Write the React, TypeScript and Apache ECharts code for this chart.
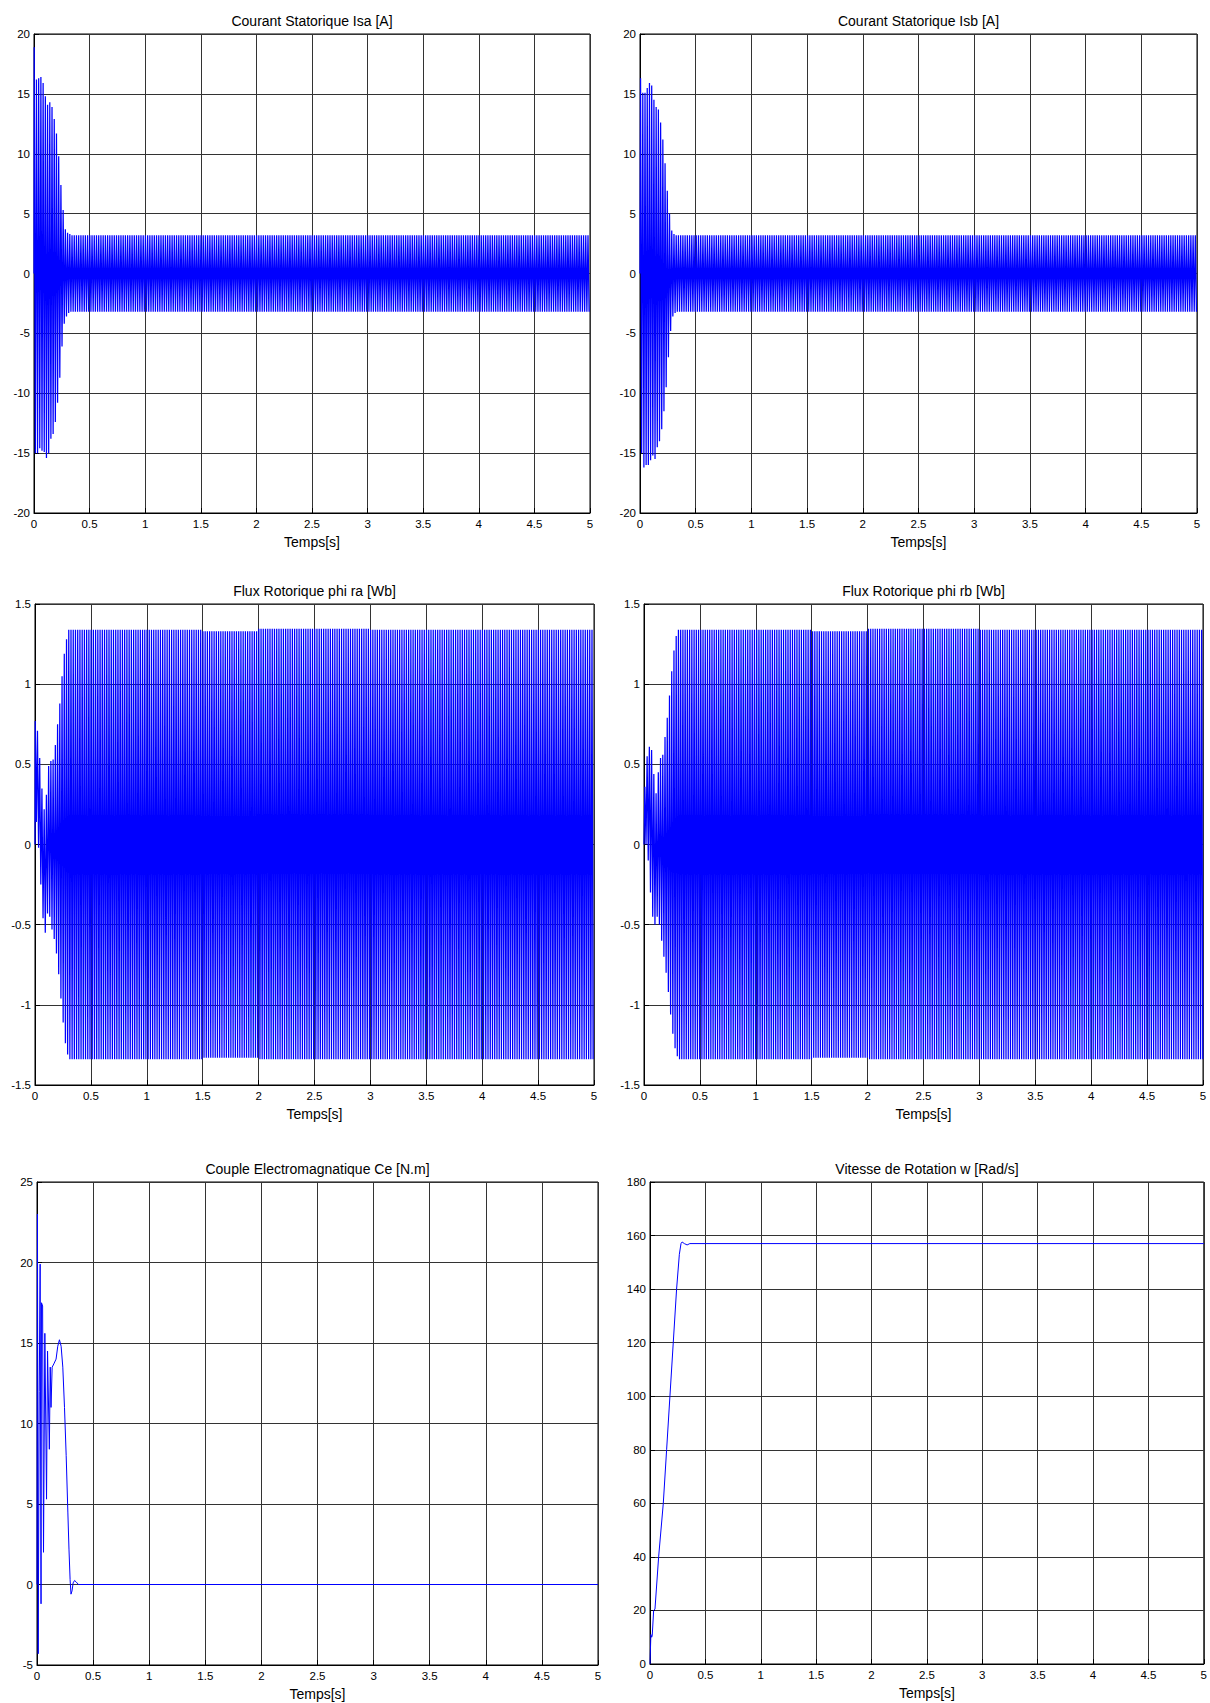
import React, { useEffect, useRef } from "react";
import * as echarts from "echarts";

// ---------------- DATA ----------------
const X_MIN = 0;
const X_MAX = 5;
const X_STEP = 0.5;
const SUPPLY_PERIOD = 0.02; // 50 Hz carrier of the oscillating quantities (s)

const titles = [
  "Courant Statorique Isa [A]",
  "Courant Statorique Isb [A]",
  "Flux Rotorique phi ra [Wb]",
  "Flux Rotorique phi rb [Wb]",
  "Couple Electromagnatique Ce [N.m]",
  "Vitesse de Rotation w [Rad/s]",
];
const xName = "Temps[s]";

// y axis ranges [min, max, step]
const yRanges: [number, number, number][] = [
  [-20, 20, 5],
  [-20, 20, 5],
  [-1.5, 1.5, 0.5],
  [-1.5, 1.5, 0.5],
  [-5, 25, 5],
  [0, 180, 20],
];

// Isa : successive positive / negative peaks during start-up (one per supply cycle)
const isaUpperPeaks = [18.9, 16.2, 16.3, 16.4, 15.9, 14.8, 14.1, 14.3, 13.9, 12.9, 11.7, 9.8, 7.4, 5.3, 3.7, 3.4, 3.3];
const isaLowerPeaks = [-15.0, -15.0, -14.6, -14.8, -14.9, -15.4, -15.0, -13.8, -13.4, -12.4, -10.8, -8.7, -6.1, -4.2, -3.6, -3.3];
// steady-state peak envelope, per 0.5 s block
const isaSteadyUpper = [3.2, 3.2, 3.2, 3.2, 3.2, 3.2, 3.2, 3.2, 3.2, 3.2];
const isaSteadyLower = [-3.2, -3.2, -3.2, -3.2, -3.2, -3.2, -3.2, -3.2, -3.2, -3.2];
const isaFirstPeakTime = 0.002;

// Isb
const isbUpperPeaks = [16.3, 15.1, 15.1, 15.5, 15.9, 15.7, 14.5, 13.9, 13.7, 12.6, 11.2, 9.2, 6.9, 5.0, 3.6, 3.3];
const isbLowerPeaks = [-15.0, -16.2, -16.0, -16.0, -15.6, -15.2, -15.5, -14.5, -14.0, -13.0, -11.5, -9.5, -7.0, -4.8, -3.6, -3.3];
const isbSteadyUpper = [3.2, 3.2, 3.2, 3.2, 3.2, 3.2, 3.2, 3.2, 3.2, 3.2];
const isbSteadyLower = [-3.2, -3.2, -3.2, -3.2, -3.2, -3.2, -3.2, -3.2, -3.2, -3.2];
const isbFirstPeakTime = 0.005;

// phi ra
const phiRaUpperPeaks = [0.77, 0.71, 0.54, 0.35, 0.22, 0.31, 0.49, 0.52, 0.53, 0.62, 0.75, 0.88, 1.05, 1.19, 1.28, 1.34];
const phiRaLowerPeaks = [0.14, -0.02, -0.25, -0.46, -0.55, -0.43, -0.45, -0.53, -0.59, -0.68, -0.81, -0.96, -1.11, -1.24, -1.31, -1.34];
const phiRaSteadyUpper = [1.34, 1.34, 1.34, 1.33, 1.345, 1.345, 1.34, 1.34, 1.34, 1.34];
const phiRaSteadyLower = [-1.34, -1.34, -1.34, -1.33, -1.34, -1.34, -1.34, -1.34, -1.34, -1.34];
const phiRaFirstPeakTime = 0.002;

// phi rb
const phiRbUpperPeaks = [0.36, 0.55, 0.61, 0.59, 0.44, 0.32, 0.45, 0.54, 0.56, 0.67, 0.79, 0.93, 1.08, 1.21, 1.3, 1.34];
const phiRbLowerPeaks = [0.0, -0.1, -0.3, -0.45, -0.5, -0.45, -0.5, -0.6, -0.7, -0.8, -0.92, -1.06, -1.18, -1.27, -1.32, -1.34];
const phiRbSteadyUpper = [1.34, 1.34, 1.34, 1.33, 1.345, 1.345, 1.34, 1.34, 1.34, 1.34];
const phiRbSteadyLower = [-1.34, -1.34, -1.34, -1.33, -1.34, -1.34, -1.34, -1.34, -1.34, -1.34];
const phiRbFirstPeakTime = 0.008;

// Ce : [t, value]
const ceTimes = [0, 0.004, 0.011, 0.02, 0.028, 0.036, 0.04, 0.05, 0.058, 0.07, 0.085, 0.094, 0.11, 0.118, 0.125, 0.135, 0.15, 0.17, 0.185, 0.2, 0.215, 0.23, 0.245, 0.26, 0.275, 0.285, 0.295, 0.303, 0.312, 0.322, 0.335, 0.35, 0.37, 5];
const ceValues = [0, 23, -4.3, 12, 19.9, -1.2, 17.5, 17.3, 2.0, 15.6, 5.3, 14.5, 8.4, 13.5, 11, 13.5, 13.7, 14, 14.8, 15.2, 14.8, 13.5, 11, 8, 4.5, 2.2, 0.3, -0.6, -0.4, 0.1, 0.25, 0.15, 0.0, 0.0];

// w : [t, value]
const wTimes = [0, 0.008, 0.015, 0.02, 0.033, 0.045, 0.078, 0.12, 0.15, 0.18, 0.21, 0.24, 0.265, 0.28, 0.29, 0.31, 0.335, 0.36, 5];
const wValues = [0, 11, 10, 10.5, 20, 20.5, 40, 60, 80, 100, 120, 140, 153, 157, 157.6, 157, 156.5, 157, 157];

// ---------------- helpers ----------------
function buildOsc(
  upper: number[],
  lower: number[],
  steadyUp: number[],
  steadyLo: number[],
  t0: number
): [number, number][] {
  const pts: [number, number][] = [[0, 0]];
  const nCycles = Math.round((X_MAX - X_MIN) / SUPPLY_PERIOD);
  for (let k = 0; k < nCycles; k++) {
    const tu = t0 + k * SUPPLY_PERIOD;
    const tl = tu + SUPPLY_PERIOD / 2;
    const bu = Math.min(steadyUp.length - 1, Math.floor(tu / 0.5));
    const bl = Math.min(steadyLo.length - 1, Math.floor(tl / 0.5));
    const u = k < upper.length ? upper[k] : steadyUp[bu];
    const l = k < lower.length ? lower[k] : steadyLo[bl];
    if (tu <= X_MAX) pts.push([tu, u]);
    if (tl <= X_MAX) pts.push([tl, l]);
  }
  return pts;
}

function zip(t: number[], v: number[]): [number, number][] {
  return t.map((x, i) => [x, v[i]]);
}

// layout (pixels)
const GRIDS = [
  { left: 34, top: 34, width: 556, height: 479 },
  { left: 640, top: 34, width: 557, height: 479 },
  { left: 35, top: 604, width: 559, height: 481 },
  { left: 644, top: 604, width: 559, height: 481 },
  { left: 37, top: 1182, width: 561, height: 483 },
  { left: 650, top: 1182, width: 554, height: 482 },
];

const FONT = "'Liberation Sans', Arial, Helvetica, sans-serif";

export default function App() {
  const ref = useRef<HTMLDivElement>(null);

  useEffect(() => {
    document.body.style.margin = "0";
    if (!ref.current) return;
    const chart = echarts.init(ref.current, undefined, { renderer: "svg" });

    const seriesData: [number, number][][] = [
      buildOsc(isaUpperPeaks, isaLowerPeaks, isaSteadyUpper, isaSteadyLower, isaFirstPeakTime),
      buildOsc(isbUpperPeaks, isbLowerPeaks, isbSteadyUpper, isbSteadyLower, isbFirstPeakTime),
      buildOsc(phiRaUpperPeaks, phiRaLowerPeaks, phiRaSteadyUpper, phiRaSteadyLower, phiRaFirstPeakTime),
      buildOsc(phiRbUpperPeaks, phiRbLowerPeaks, phiRbSteadyUpper, phiRbSteadyLower, phiRbFirstPeakTime),
      zip(ceTimes, ceValues),
      zip(wTimes, wValues),
    ];

    const grid = GRIDS.map((g) => ({
      ...g,
      show: true,
      borderColor: "#000",
      borderWidth: 1,
      backgroundColor: "#fff",
      containLabel: false,
    }));

    const xAxis = GRIDS.map((_, i) => ({
      type: "value",
      gridIndex: i,
      min: X_MIN,
      max: X_MAX,
      interval: X_STEP,
      name: xName,
      nameLocation: "middle",
      nameGap: 22,
      nameTextStyle: { fontSize: 14, color: "#000", fontFamily: FONT },
      axisLine: { show: true, onZero: false, lineStyle: { color: "#000", width: 1 } },
      axisTick: { show: true, inside: true, length: 5, lineStyle: { color: "#000" } },
      axisLabel: { color: "#000", fontSize: 11.5, fontFamily: FONT, margin: 5 },
      splitLine: { show: true, lineStyle: { color: "#333", width: 1 } },
    }));

    const yAxis = GRIDS.map((_, i) => ({
      type: "value",
      gridIndex: i,
      min: yRanges[i][0],
      max: yRanges[i][1],
      interval: yRanges[i][2],
      axisLine: { show: true, onZero: false, lineStyle: { color: "#000", width: 1 } },
      axisTick: { show: true, inside: true, length: 5, lineStyle: { color: "#000" } },
      axisLabel: { color: "#000", fontSize: 11.5, fontFamily: FONT, margin: 4 },
      splitLine: { show: true, lineStyle: { color: "#333", width: 1 } },
    }));

    const series = seriesData.map((d, i) => ({
      type: "line",
      xAxisIndex: i,
      yAxisIndex: i,
      data: d,
      showSymbol: false,
      symbol: "none",
      silent: true,
      lineStyle: { color: "#0000ff", width: i < 4 ? 1.25 : 1 },
      z: 3,
    }));

    const graphic = GRIDS.map((g, i) => ({
      type: "text",
      x: g.left + g.width / 2,
      y: g.top - 13,
      silent: true,
      style: {
        text: titles[i],
        fill: "#000",
        fontSize: 14,
        fontFamily: FONT,
        textAlign: "center",
        textVerticalAlign: "middle",
        align: "center",
        verticalAlign: "middle",
      },
    }));

    chart.setOption({
      animation: false,
      backgroundColor: "#fff",
      grid,
      xAxis,
      yAxis,
      series,
      graphic,
    });

    return () => chart.dispose();
  }, []);

  return <div ref={ref} style={{ width: 1210, height: 1703 }} />;
}
